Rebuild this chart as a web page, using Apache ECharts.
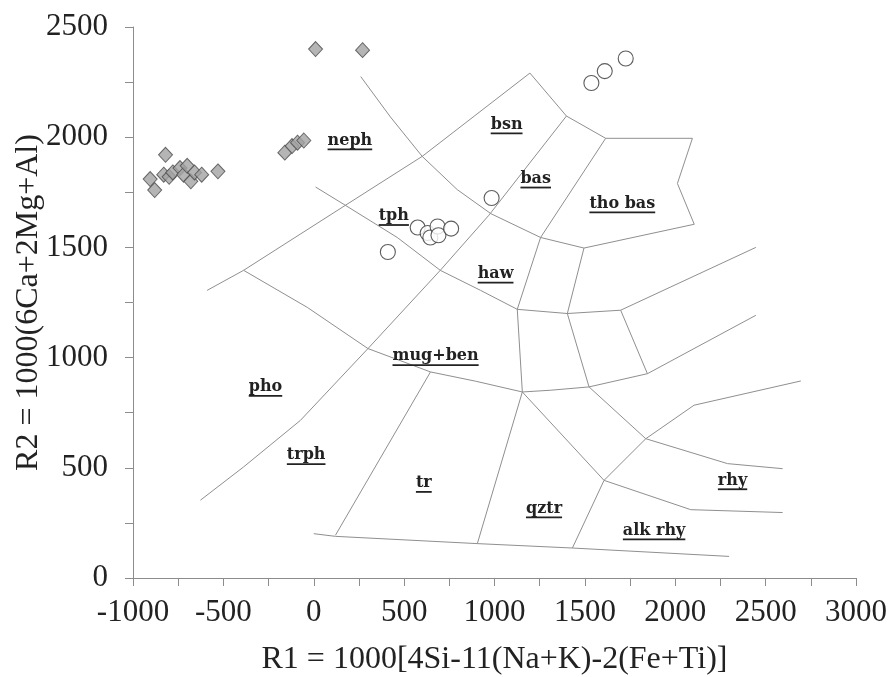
<!DOCTYPE html>
<html>
<head>
<meta charset="utf-8">
<script src="https://cdn.jsdelivr.net/npm/echarts@6/dist/echarts.min.js"></script>
<style>html,body{margin:0;padding:0;background:#fff;}#chart{width:890px;height:677px;}</style>
</head>
<body>
<div id="chart"></div>
<script>
// ---- axis ranges / ticks ----
const xRange = [-1000, 3000];
const yRange = [0, 2500];
const tickStep = 250;
const labelStep = 500;

// ---- sample data ----
const diamondX = [-905, -880, -820, -830, -800, -780, -740, -720, -700, -680, -660, -620, -530, -160, -120, -90, -55, 10, 270];
const diamondY = [1810, 1760, 1920, 1830, 1820, 1840, 1860, 1830, 1870, 1800, 1840, 1830, 1845, 1930, 1960, 1975, 1985, 2400, 2395];
const circleX = [410, 575, 630, 645, 685, 690, 760, 984, 1536, 1610, 1726];
const circleY = [1479, 1590, 1565, 1545, 1595, 1555, 1585, 1724, 2246, 2300, 2357];

// ---- field boundaries (R1, R2) ----
const lineA = [[260, 2275], [424, 2092], [600, 1913], [794, 1762], [980, 1653], [1255, 1545], [1495, 1497], [2105, 1605]];
const lineB = [[-590, 1305], [-388, 1396], [175, 1691], [600, 1913], [1196, 2291], [1398, 2096], [1615, 1995], [2095, 1995], [2012, 1790], [2105, 1605]];
const lineBsnBas = [[1398, 2096], [969, 1646], [700, 1396], [300, 1041], [-74, 715], [-388, 504], [-627, 353]];
const lineHaw = [[10, 1774], [175, 1691], [462, 1545], [700, 1396], [923, 1305], [1126, 1219], [1403, 1200], [1698, 1215], [2446, 1500]];
const lineBasTho = [[1615, 1995], [1255, 1545], [1126, 1219], [1154, 844], [905, 156]];
const lineMid = [[1495, 1497], [1403, 1200], [1523, 867], [1837, 632]];
const lineQz = [[1431, 136], [1606, 443], [1837, 632], [2104, 784], [2695, 894]];
const lineRhyTop = [[1837, 632], [2289, 519], [2594, 496]];
const lineRhyBot = [[1154, 844], [1606, 443], [2086, 310], [2594, 297]];
const lineShort = [[1698, 1215], [1846, 927]];
const lineRight = [[1523, 867], [1846, 927], [2446, 1192]];
const lineMugBot = [[1154, 844], [1311, 852], [1523, 867]];
const lineMugTop = [[-388, 1396], [-36, 1228], [300, 1041], [646, 935], [895, 893], [1154, 844]];
const lineTr = [[646, 935], [120, 194]];
const lineBottom = [[0, 201], [120, 189], [905, 156], [1431, 136], [2298, 98]];
const boundaries = [lineA, lineB, lineBsnBas, lineHaw, lineBasTho, lineMid, lineQz, lineRhyTop, lineRhyBot, lineShort, lineRight, lineMugBot, lineMugTop, lineTr, lineBottom];

// ---- field names ----
const fieldNames = ['neph', 'bsn', 'bas', 'tho bas', 'tph', 'haw', 'mug+ben', 'pho', 'trph', 'tr', 'qztr', 'rhy', 'alk rhy'];
const fieldX = [200, 1067, 1228, 1707, 443, 1006, 674, -267, -42, 609, 1274, 2317, 1883];
const fieldY = [1985, 2058, 1812, 1699, 1642, 1381, 1006, 867, 557, 431, 315, 443, 216];

const serif = '"Liberation Serif", "Times New Roman", serif';
const labelFont = 'bold 16px "DejaVu Serif"';
const mctx = document.createElement('canvas').getContext('2d');
mctx.font = labelFont;

const chart = echarts.init(document.getElementById('chart'), null, {renderer: 'canvas'});

const axisCommon = {
  interval: tickStep,
  axisLine: {onZero: false, lineStyle: {color: '#8c8c8c', width: 1}},
  axisTick: {show: true, inside: false, length: 8, lineStyle: {color: '#8c8c8c'}},
  splitLine: {show: false},
  axisLabel: {
    fontFamily: serif, fontSize: 31, color: '#222',
    formatter: v => (v % labelStep === 0 ? String(v) : '')
  },
  nameLocation: 'middle',
  nameMoveOverlap: false,
  nameTextStyle: {fontFamily: serif, fontSize: 32, color: '#222'}
};

const series = boundaries.map(b => ({
  type: 'line', data: b, showSymbol: false, silent: true, z: 1,
  lineStyle: {color: '#8f8f8f', width: 1}, animation: false
}));

series.push({
  type: 'custom', z: 3, silent: true, animation: false,
  data: fieldX.map((x, i) => [x, fieldY[i]]),
  renderItem: function (params, api) {
    const p = api.coord([api.value(0), api.value(1)]);
    const name = fieldNames[params.dataIndex];
    const w = mctx.measureText(name).width;
    return {
      type: 'group',
      children: [
        {type: 'text', x: p[0], y: p[1], style: {text: name, font: labelFont, fill: '#222', align: 'center', verticalAlign: 'middle'}},
        {type: 'rect', shape: {x: p[0] - w / 2, y: p[1] + 8, width: w, height: 1.8}, style: {fill: '#222'}}
      ]
    };
  }
});

series.push({
  type: 'scatter', z: 5, animation: false,
  data: diamondX.map((x, i) => [x, diamondY[i]]),
  symbol: 'diamond', symbolSize: [14, 15],
  itemStyle: {color: '#a3a3a3', borderColor: '#4a4a4a', borderWidth: 1}
});
series.push({
  type: 'scatter', z: 5, animation: false,
  data: circleX.map((x, i) => [x, circleY[i]]),
  symbol: 'circle', symbolSize: 15,
  itemStyle: {color: '#ffffff', borderColor: '#333', borderWidth: 1.1}
});

chart.setOption({
  backgroundColor: '#fff',
  animation: false,
  grid: {left: 133, right: 34, top: 27, bottom: 99, containLabel: false, outerBoundsMode: 'none'},
  xAxis: Object.assign({}, axisCommon, {
    type: 'value', min: xRange[0], max: xRange[1],
    name: 'R1 = 1000[4Si-11(Na+K)-2(Fe+Ti)]', nameGap: 66,
    axisLabel: Object.assign({}, axisCommon.axisLabel, {margin: 19})
  }),
  yAxis: Object.assign({}, axisCommon, {
    type: 'value', min: yRange[0], max: yRange[1],
    name: 'R2 = 1000(6Ca+2Mg+Al)', nameGap: 88,
    axisLabel: Object.assign({}, axisCommon.axisLabel, {margin: 25})
  }),
  series: series
});
</script>
</body>
</html>
